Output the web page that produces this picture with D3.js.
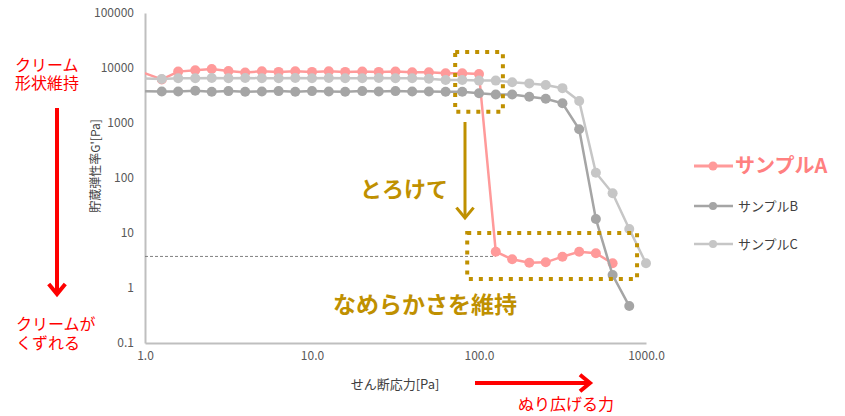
<!DOCTYPE html>
<html>
<head>
<meta charset="utf-8">
<script src="https://cdn.jsdelivr.net/npm/d3@7"></script>
<style>
  body { margin: 0; background: #fff; }
  svg text { font-family: "Noto Sans CJK JP", "Liberation Sans", sans-serif; }
</style>
</head>
<body>
<div id="chart"></div>
<script>
// shear stress [Pa] (first point lies just left of the axis and is clipped)
var stress = [0.95, 1.26, 1.58, 2.00, 2.51, 3.16, 3.98, 5.01, 6.31, 7.94,
              10.0, 12.6, 15.8, 20.0, 25.1, 31.6, 39.8, 50.1, 63.1, 79.4,
              100, 126, 158, 200, 251, 316, 398, 501, 631, 794, 1000]

// storage modulus G' [Pa]
var sampleA = [8500, 6200, 8600, 9100, 9600, 8800, 8300, 8700, 8500, 8700,
               8500, 8700, 8500, 8600, 8500, 8600, 8400, 8400, 8000, 8000,
               7800, 4.57, 3.33, 2.88, 2.93, 3.71, 4.57, 4.28, 2.81]
var sampleB = [3800, 3750, 3750, 3850, 3700, 3800, 3700, 3750, 3800, 3700,
               3800, 3750, 3700, 3800, 3750, 3800, 3750, 3750, 3700, 3700,
               3470, 3300, 3300, 3000, 2750, 2280, 767, 18, 1.72, 0.47]
var sampleC = [6500, 6300, 6500, 6500, 6600, 6500, 6600, 6500, 6500, 6600,
               6500, 6600, 6500, 6500, 6600, 6500, 6500, 6400, 6050, 6050,
               5900, 5900, 5500, 5250, 4900, 4300, 2510, 125, 52.7, 11.8, 2.81]

var seriesNames = ["サンプルA", "サンプルB", "サンプルC"]
var seriesColors = ["#ff9a9a", "#a5a5a5", "#c6c6c6"]

var xTicks = [1, 10, 100, 1000]
var yTicks = [0.1, 1, 10, 100, 1000, 10000, 100000]
var refLevel = 3.75   // dashed reference line
var refEnd = 126

// dotted highlight boxes, in data units [x0, yTop, x1, yBottom]
var meltBox = [72, 19500, 139, 1600]
var smoothBox = [85, 10, 884, 1.46]

var gold = "#bf9000"
var red = "#ff0000"

var svg = d3.select("#chart").append("svg")
    .attr("width", 845)
    .attr("height", 416)

var x = d3.scaleLog().domain([1, 1000]).range([145, 646])
var y = d3.scaleLog().domain([0.1, 100000]).range([343, 13])

svg.append("clipPath").attr("id", "plot_clip")
    .append("rect")
    .attr("x", x(1)).attr("y", y(100000))
    .attr("width", x(1000) - x(1)).attr("height", y(0.1) - y(100000))

// axes (no tick marks, only lines + labels)
var xAxis = svg.append("g")
    .attr("transform", "translate(0," + y(0.1) + ")")
    .call(d3.axisBottom(x).tickValues(xTicks).tickSize(0).tickPadding(8)
        .tickFormat(function(d){ return d3.format(".1f")(d) }))
var yAxis = svg.append("g")
    .attr("transform", "translate(" + x(1) + ",0)")
    .call(d3.axisLeft(y).tickValues(yTicks).tickSize(0).tickPadding(11)
        .tickFormat(function(d){ return d < 1 ? "0.1" : d3.format("d")(d) }))

svg.selectAll(".domain").attr("stroke", "#bfbfbf").attr("stroke-width", 2)
svg.selectAll(".tick text")
    .attr("font-family", "'Liberation Sans', sans-serif")
    .attr("font-size", "12px")
    .attr("fill", "#595959")

// dashed reference line
svg.append("line")
    .attr("x1", x(1)).attr("x2", x(refEnd))
    .attr("y1", y(refLevel)).attr("y2", y(refLevel))
    .attr("stroke", "#808080").attr("stroke-width", 1)
    .attr("stroke-dasharray", "3,2")

var line = d3.line()
    .x(function(d){ return x(d[0]) })
    .y(function(d){ return y(d[1]) })

var allSeries = [sampleA, sampleB, sampleC]
allSeries.forEach(function(vals, i){
    var pts = vals.map(function(v, k){ return [stress[k], v] })
    var g = svg.append("g").attr("class", "series_" + i)
    g.append("path")
        .attr("clip-path", "url(#plot_clip)")
        .attr("d", line(pts))
        .attr("fill", "none")
        .attr("stroke", seriesColors[i])
        .attr("stroke-width", 2.5)
    g.selectAll("circle")
        .data(pts.filter(function(p){ return p[0] >= 1 }))
        .enter().append("circle")
        .attr("cx", function(d){ return x(d[0]) })
        .attr("cy", function(d){ return y(d[1]) })
        .attr("r", 5)
        .attr("fill", seriesColors[i])
})

// axis titles
svg.append("text")
    .attr("transform", "translate(100,166) rotate(-90)")
    .attr("text-anchor", "middle")
    .attr("font-size", "12px")
    .attr("fill", "#404040")
    .text("貯蔵弾性率G'[Pa]")

svg.append("text")
    .attr("x", 395).attr("y", 389)
    .attr("text-anchor", "middle")
    .attr("font-size", "13px")
    .attr("fill", "#404040")
    .text("せん断応力[Pa]")

// legend
var legendY = [166, 206, 244]
seriesNames.forEach(function(name, i){
    var lg = svg.append("g").attr("transform", "translate(694," + legendY[i] + ")")
    lg.append("line")
        .attr("x1", 0).attr("x2", 39)
        .attr("stroke", seriesColors[i])
        .attr("stroke-width", i == 0 ? 3 : 2.5)
    lg.append("circle").attr("cx", 19).attr("r", i == 0 ? 4.5 : 4)
        .attr("fill", seriesColors[i])
    lg.append("text")
        .attr("x", i == 0 ? 41 : 44)
        .attr("y", i == 0 ? 7 : 5)
        .attr("font-size", i == 0 ? "20px" : "13px")
        .attr("font-weight", i == 0 ? "bold" : "normal")
        .attr("fill", i == 0 ? "#ff8080" : "#404040")
        .text(name)
})

// gold annotations
function dottedBox(b){
    svg.append("rect")
        .attr("x", x(b[0])).attr("y", y(b[1]))
        .attr("width", x(b[2]) - x(b[0])).attr("height", y(b[3]) - y(b[1]))
        .attr("fill", "none")
        .attr("stroke", gold).attr("stroke-width", 4)
        .attr("stroke-dasharray", "4,6")
}
dottedBox(meltBox)
dottedBox(smoothBox)

function arrow(x0, y0, x1, y1, color, w, head){
    var ang = Math.atan2(y1 - y0, x1 - x0)
    svg.append("line")
        .attr("x1", x0).attr("y1", y0).attr("x2", x1).attr("y2", y1)
        .attr("stroke", color).attr("stroke-width", w)
    var a1 = ang + Math.PI * 0.78, a2 = ang - Math.PI * 0.78
    svg.append("path")
        .attr("d", "M" + (x1 + head * Math.cos(a1)) + "," + (y1 + head * Math.sin(a1)) +
                   "L" + x1 + "," + y1 +
                   "L" + (x1 + head * Math.cos(a2)) + "," + (y1 + head * Math.sin(a2)))
        .attr("fill", "none")
        .attr("stroke", color).attr("stroke-width", w)
        .attr("stroke-linecap", "square")
}
arrow(465, 122, 465, 218, gold, 3, 12)

svg.append("text")
    .attr("x", 360).attr("y", 197)
    .attr("font-size", "22px").attr("font-weight", "bold")
    .attr("fill", gold)
    .text("とろけて")
svg.append("text")
    .attr("x", 333).attr("y", 313)
    .attr("font-size", "23px").attr("font-weight", "bold")
    .attr("fill", gold)
    .text("なめらかさを維持")

// red annotations
arrow(57, 108, 57, 294, red, 4, 11)
arrow(475, 383, 590, 383, red, 4, 11)

var redTexts = [[["クリーム", "形状維持"], 15, 71, 18], [["クリームが", "くずれる"], 16, 330, 19]]
redTexts.forEach(function(d){
    var t = svg.append("text")
        .attr("x", d[1]).attr("y", d[2])
        .attr("font-size", "16px")
        .attr("fill", red)
    d[0].forEach(function(s, j){
        t.append("tspan")
            .attr("x", d[1])
            .attr("dy", j == 0 ? 0 : d[3])
            .text(s)
    })
})

svg.append("text")
    .attr("x", 518).attr("y", 410)
    .attr("font-size", "16px")
    .attr("fill", red)
    .text("ぬり広げる力")
</script>
</body>
</html>
